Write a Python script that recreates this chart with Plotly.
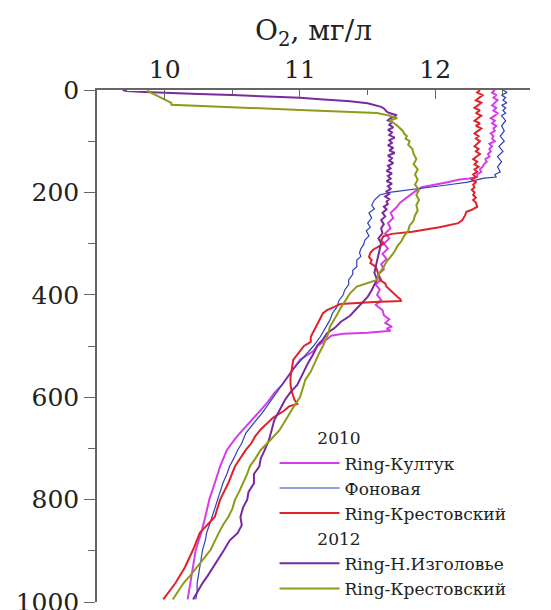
import plotly.graph_objects as go

# ---------------- data ----------------
# 2010 Ring-Култук
kultuk_2010_depth = [0,5,10,15,20,25,30,35,40,45,50,55,60,65,70,75,80,85,90,95,100,105,110,115,120,125,130,135,140,145,150,155,160,165,170,173,175,180,185,190,200,210,220,230,240,250,260,270,280,290,300,310,320,330,340,350,360,370,380,390,400,410,420,430,440,448,455,462,466,470,474,476,480,485,500,510,527,545,560,575,592,610,631,655,678,703,735,768,800,834,865,898,932,963,995]
kultuk_2010_o2 = [12.44,12.42,12.45,12.43,12.46,12.44,12.42,12.45,12.43,12.46,12.44,12.41,12.44,12.42,12.45,12.43,12.44,12.41,12.43,12.42,12.44,12.40,12.42,12.40,12.41,12.39,12.40,12.37,12.38,12.36,12.35,12.33,12.34,12.31,12.31,12.25,12.18,12.09,11.98,11.90,11.84,11.79,11.74,11.71,11.67,11.69,11.65,11.67,11.63,11.66,11.62,11.65,11.61,11.64,11.60,11.62,11.58,11.60,11.56,11.59,11.57,11.60,11.56,11.61,11.62,11.66,11.63,11.68,11.64,11.67,11.50,11.32,11.23,11.21,11.13,11.10,11.00,10.95,10.91,10.87,10.81,10.76,10.69,10.61,10.53,10.46,10.41,10.37,10.33,10.30,10.27,10.23,10.21,10.19,10.17]

# 2010 Фоновая
fon_2010_depth = [0,5,10,15,20,25,30,35,40,45,50,60,70,80,90,100,110,120,130,140,150,160,165,170,172,176,180,185,190,195,200,205,210,215,225,232,240,250,260,268,275,285,293,302,310,318,325,332,345,352,360,371,380,391,400,410,425,436,450,463,482,500,515,527,545,560,575,592,612,631,650,670,690,703,720,735,750,768,785,800,818,834,850,865,880,898,915,932,948,963,980,995]
fon_2010_o2 = [12.50,12.53,12.49,12.52,12.50,12.53,12.49,12.52,12.50,12.52,12.49,12.52,12.49,12.51,12.48,12.51,12.47,12.50,12.46,12.49,12.46,12.48,12.44,12.45,12.36,12.30,12.24,12.10,11.95,11.78,11.66,11.59,11.57,11.55,11.53,11.55,11.51,11.53,11.50,11.52,11.49,11.51,11.48,11.47,11.45,11.44,11.45,11.42,11.42,11.39,11.39,11.36,11.36,11.33,11.32,11.29,11.27,11.24,11.22,11.19,11.15,11.10,11.05,11.01,10.95,10.91,10.87,10.83,10.77,10.72,10.66,10.60,10.57,10.54,10.51,10.48,10.46,10.43,10.41,10.39,10.37,10.35,10.33,10.31,10.30,10.28,10.27,10.26,10.25,10.24,10.24,10.23]

# 2010 Ring-Крестовский
krest_2010_depth = [0,5,10,15,20,25,30,35,40,45,50,55,60,65,70,75,80,85,90,95,100,105,110,115,120,125,130,135,140,145,150,155,160,165,170,175,180,185,190,195,200,205,210,215,220,228,234,238,245,254,260,268,277,281,285,293,300,312,318,326,332,338,345,351,360,371,378,384,392,397,404,408,412,414,416,418,424,430,436,446,455,470,482,492,500,510,520,527,545,560,575,590,605,613,618,627,640,650,663,676,690,703,735,768,800,834,865,898,932,963,995]
krest_2010_o2 = [12.33,12.31,12.35,12.32,12.30,12.34,12.31,12.29,12.33,12.30,12.34,12.31,12.29,12.33,12.30,12.34,12.31,12.29,12.32,12.30,12.33,12.31,12.29,12.32,12.30,12.33,12.30,12.28,12.31,12.29,12.32,12.29,12.31,12.28,12.30,12.27,12.30,12.28,12.29,12.27,12.29,12.28,12.30,12.28,12.30,12.31,12.27,12.23,12.22,12.20,12.17,12.03,11.83,11.68,11.62,11.60,11.62,11.54,11.52,11.51,11.53,11.52,11.56,11.57,11.58,11.59,11.63,11.64,11.67,11.69,11.72,11.74,11.75,11.55,11.37,11.30,11.25,11.20,11.17,11.15,11.13,11.10,11.08,11.08,11.03,11.00,10.97,10.95,10.94,10.93,10.93,10.94,10.96,10.98,10.92,10.88,10.80,10.76,10.71,10.67,10.64,10.60,10.52,10.47,10.41,10.37,10.26,10.21,10.15,10.08,9.99]

# 2012 Ring-Н.Изголовье
izg_2012_depth = [0,2,4,6,8,10,12,15,18,22,26,30,33,36,39,42,45,49,52,55,59,63,68,73,78,83,88,93,98,103,108,113,118,123,128,133,138,143,148,153,158,163,168,173,178,183,188,193,198,203,208,213,218,223,228,233,240,247,254,262,270,280,290,300,310,320,330,345,357,371,380,391,404,416,430,441,453,464,475,487,498,515,533,550,576,590,605,625,645,665,684,703,720,735,750,768,785,800,815,834,850,865,880,898,915,932,948,963,980,995]
izg_2012_o2 = [9.69,9.72,9.85,10.00,10.25,10.50,10.75,11.00,11.15,11.37,11.50,11.56,11.60,11.62,11.63,11.64,11.66,11.71,11.70,11.67,11.65,11.68,11.66,11.69,11.65,11.68,11.66,11.70,11.66,11.68,11.65,11.69,11.66,11.70,11.65,11.68,11.66,11.69,11.65,11.67,11.64,11.68,11.65,11.67,11.64,11.68,11.65,11.67,11.64,11.66,11.63,11.66,11.64,11.65,11.62,11.64,11.61,11.63,11.60,11.62,11.60,11.61,11.58,11.60,11.59,11.58,11.57,11.56,11.55,11.57,11.55,11.53,11.50,11.46,11.41,11.37,11.30,11.26,11.20,11.17,11.13,11.10,11.06,11.03,10.98,10.93,10.89,10.85,10.81,10.79,10.77,10.74,10.71,10.70,10.66,10.66,10.62,10.61,10.58,10.56,10.57,10.54,10.48,10.44,10.40,10.36,10.32,10.28,10.24,10.21]

# 2012 Ring-Крестовский
krest_2012_depth = [0,3,8,12,15,20,25,29,32,35,39,43,45,50,55,60,64,70,75,80,85,90,95,100,107,115,125,135,145,155,165,175,185,195,205,215,225,235,245,255,265,275,285,295,305,315,326,335,345,352,360,371,377,384,397,405,416,426,436,450,463,475,488,500,515,533,550,566,583,600,620,642,664,684,703,720,735,750,768,785,800,818,834,850,865,880,898,915,932,948,963,980,995]
krest_2012_o2 = [9.88,9.88,9.92,9.95,9.98,10.01,10.05,10.05,10.40,10.63,11.00,11.37,11.57,11.66,11.72,11.66,11.69,11.72,11.74,11.76,11.77,11.79,11.78,11.81,11.80,11.83,11.84,11.86,11.84,11.87,11.85,11.87,11.85,11.88,11.86,11.88,11.86,11.87,11.85,11.84,11.81,11.80,11.77,11.75,11.72,11.70,11.67,11.64,11.62,11.60,11.58,11.57,11.50,11.42,11.37,11.35,11.32,11.30,11.28,11.25,11.22,11.21,11.19,11.17,11.14,11.11,11.08,11.04,11.02,11.00,10.95,10.90,10.85,10.78,10.71,10.67,10.63,10.61,10.58,10.55,10.52,10.50,10.47,10.43,10.40,10.37,10.34,10.29,10.24,10.19,10.14,10.10,10.06]

group_titles = {"2010": "\u00a0\u00a0\u00a0\u00a0\u00a0\u00a0\u00a02010",
                "2012": "\u00a0\u00a0\u00a0\u00a0\u00a0\u00a0\u00a02012"}

series = [
    ("2010", "Ring-Култук", kultuk_2010_o2, kultuk_2010_depth, "#d43de8", 2),
    ("2010", "Фоновая", fon_2010_o2, fon_2010_depth, "#3040b8", 1.2),
    ("2010", "Ring-Крестовский", krest_2010_o2, krest_2010_depth, "#e0222a", 2),
    ("2012", "Ring-Н.Изголовье", izg_2012_o2, izg_2012_depth, "#7a2a9c", 2),
    ("2012", "Ring-Крестовский", krest_2012_o2, krest_2012_depth, "#8e9a18", 2),
]

FONT = "DejaVu Serif"

fig = go.Figure()
for grp, name, xs, ys, col, w in series:
    fig.add_trace(go.Scatter(
        x=xs, y=ys, mode="lines", name=name,
        legendgroup=grp,
        legendgrouptitle=dict(text=group_titles[grp], font=dict(family=FONT, size=17, color="#222")),
        line=dict(color=col, width=w),
    ))

fig.update_layout(
    width=551, height=610,
    margin=dict(l=97, r=21, t=90, b=8, autoexpand=False),
    paper_bgcolor="white", plot_bgcolor="white",
    font=dict(family=FONT, color="#222"),
    showlegend=True,
    legend=dict(
        x=0.41, y=0.355, xanchor="left", yanchor="top",
        font=dict(family=FONT, size=17, color="#222"),
        bgcolor="rgba(255,255,255,0)", tracegroupgap=0,
        itemwidth=60,
    ),
    xaxis=dict(
        side="top", range=[9.5, 12.7], automargin=False,
        tickmode="linear", tick0=0, dtick=1,
        ticks="inside", ticklen=9, tickcolor="#666", tickwidth=1.3,
        minor=dict(dtick=0.5, tick0=0, ticks="inside", ticklen=5, tickcolor="#666", tickwidth=1.3),
        showline=True, linecolor="#666", linewidth=1.5,
        showgrid=False, zeroline=False,
        tickfont=dict(family=FONT, size=25, color="#222"),
        title=dict(text="O<sub>2</sub>, мг/л", font=dict(family=FONT, size=28, color="#222"), standoff=6),
    ),
    yaxis=dict(
        range=[1000, 0], automargin=False,
        tickmode="linear", tick0=0, dtick=200,
        ticks="outside", ticklen=11, tickcolor="#666", tickwidth=1.3,
        minor=dict(dtick=100, ticks="outside", ticklen=7, tickcolor="#666", tickwidth=1.3),
        showline=True, linecolor="#666", linewidth=1.5,
        showgrid=False, zeroline=False,
        ticklabeloverflow="allow",
        tickfont=dict(family=FONT, size=25, color="#222"),
    ),
)

fig.write_html("out.html")
